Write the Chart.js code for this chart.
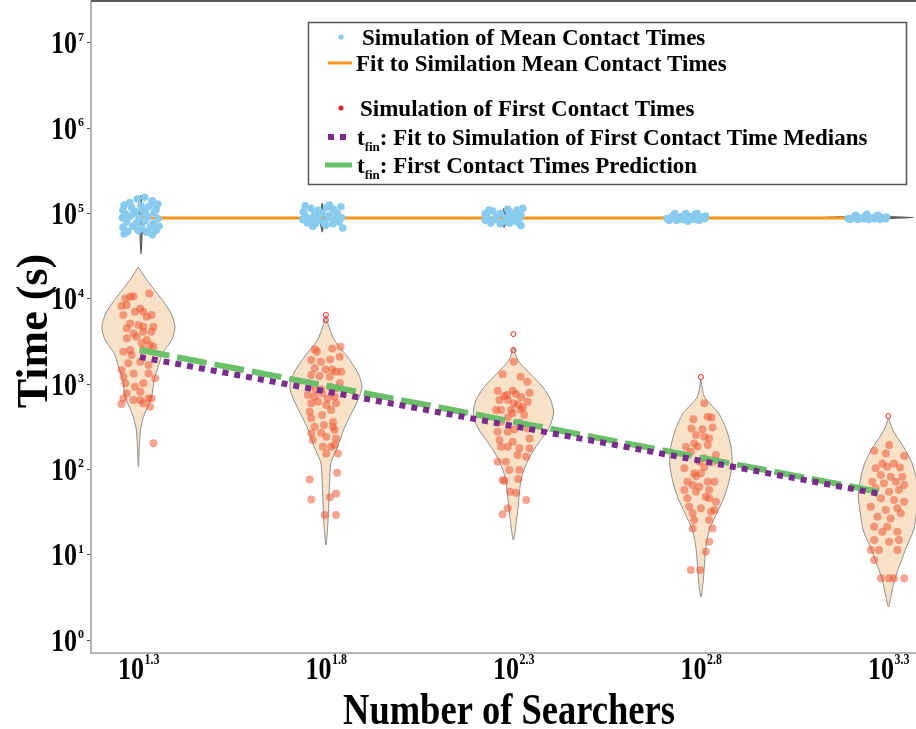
<!DOCTYPE html>
<html>
<head>
<meta charset="utf-8">
<script src="https://cdn.jsdelivr.net/npm/chart.js@4.4.1/dist/chart.umd.min.js"></script>
<style>
html, body { margin: 0; padding: 0; background: #fff; }
canvas { display: block; }
</style>
</head>
<body>
<canvas id="chart" width="916" height="729"></canvas>
<script>
// x values are log10(number of searchers), y values are log10(time in s)
const groupExp = [1.3, 1.8, 2.3, 2.8, 3.3];
const meanGroupX = [1.307, 1.79, 2.275, 2.76, 3.243];
const yDecades = [0, 1, 2, 3, 4, 5, 6, 7];

// simulated mean contact times, [x jitter, log10 t]
const mean13 = [[-.045,5.10],[-.03,5.13],[-.01,5.17],[.01,5.19],[.03,5.15],[.045,5.11],[-.048,5.04],[-.025,5.07],[0,5.09],[.02,5.08],[.04,5.05],[-.04,4.99],[-.015,5.02],[.012,5.00],[.035,5.01],[-.05,4.95],[-.028,4.97],[-.005,4.95],[.018,4.96],[.045,4.94],[-.038,4.90],[-.012,4.89],[.01,4.91],[.032,4.88],[-.048,4.84],[-.022,4.85],[.002,4.83],[.025,4.84],[.048,4.85],[-.035,4.79],[-.008,4.80],[.015,4.78],[.04,4.80],[-.045,4.76],[.03,4.75],[-.02,5.00],[.005,5.04],[.028,5.12]];
const mean18 = [[-.05,5.02],[-.03,5.06],[-.01,5.04],[.012,5.07],[.03,5.05],[.05,5.08],[-.045,4.97],[-.02,4.99],[0,5.00],[.02,4.98],[.04,5.00],[-.052,4.93],[-.03,4.94],[-.008,4.92],[.015,4.95],[.035,4.93],[.052,4.95],[-.04,4.89],[-.018,4.88],[.005,4.89],[.028,4.88],[.045,4.90],[-.025,4.85],[.01,4.86],[.055,4.83],[-.045,5.09],[.02,5.10],[-.01,4.96]];
const mean23 = [[-.05,5.0],[-.03,5.03],[-.01,5.0],[.015,5.02],[.035,5.04],[.05,5.06],[-.045,4.96],[-.02,4.97],[.005,4.95],[.025,4.97],[.045,4.98],[-.05,4.92],[-.025,4.93],[0,4.91],[.02,4.92],[.04,4.93],[-.035,4.89],[-.01,4.88],[.015,4.89],[.035,4.90],[.045,4.86],[-.04,5.04],[.01,5.05],[.03,4.95]];
const mean28 = [[-.05,4.94],[-.035,4.97],[-.02,4.95],[-.005,4.98],[.01,4.96],[.025,4.99],[.04,4.96],[.052,4.97],[-.045,4.92],[-.025,4.92],[-.01,4.93],[.005,4.91],[.02,4.93],[.035,4.92],[.05,4.94],[-.03,5.0],[0,5.0],[.03,5.0],[-.04,4.95],[.015,4.95]];
const mean33 = [[-.05,4.94],[-.035,4.96],[-.02,4.95],[-.005,4.97],[.01,4.95],[.025,4.97],[.04,4.95],[.052,4.96],[-.045,4.93],[-.025,4.93],[-.01,4.94],[.005,4.93],[.02,4.94],[.035,4.93],[.05,4.94],[-.03,4.98],[0,4.99],[.03,4.98]];

// simulated first contact times, [x jitter, log10 t]
const first13 = [[-.035,4.005],[-.022,4.025],[-.013,4.03],[.029,4.064],[-.045,3.916],[-.031,3.927],[.005,3.888],[-.009,3.849],[.013,3.849],[-.04,3.81],[.022,3.79],[.035,3.81],[-.022,3.712],[0,3.693],[.013,3.673],[-.031,3.654],[.04,3.673],[-.013,3.595],[.013,3.615],[.035,3.615],[-.031,3.537],[-.005,3.556],[.022,3.517],[.009,3.478],[.031,3.458],[-.022,3.4],[-.04,3.38],[.013,3.4],[.04,3.439],[-.018,3.341],[-.027,3.244],[.005,3.263],[.027,3.224],[-.045,3.165],[-.04,3.087],[-.013,3.126],[.027,3.126],[-.035,3.009],[.013,3.009],[-.009,2.97],[.045,3.068],[.005,2.911],[-.031,2.892],[-.04,2.833],[-.013,2.814],[.005,2.814],[.027,2.833],[.035,2.833],[-.045,2.767],[.013,2.775],[.031,2.735],[.04,2.306]];
const first18 = [[-.030,3.408],[-.024,3.380],[.017,3.419],[.039,3.439],[-.039,3.283],[-.013,3.263],[.011,3.290],[.037,3.322],[-.030,3.185],[-.001,3.173],[.017,3.173],[.027,3.146],[.041,3.146],[-.039,3.107],[-.017,3.095],[.010,3.087],[.037,3.009],[-.043,2.970],[-.027,2.931],[-.013,2.939],[.011,2.970],[.027,2.950],[-.048,2.872],[-.030,2.853],[-.010,2.892],[.005,2.833],[.023,2.853],[-.039,2.775],[-.021,2.794],[.001,2.755],[.027,2.775],[-.043,2.677],[-.010,2.638],[.014,2.696],[-.039,2.599],[.019,2.560],[-.030,2.501],[-.005,2.521],[.019,2.501],[-.039,2.423],[-.013,2.431],[.023,2.462],[-.035,2.345],[.001,2.384],[.027,2.364],[-.008,2.266],[.014,2.266],[.023,2.286],[.001,2.188],[.032,2.188],[-.043,1.883],[.030,1.962],[-.039,1.649],[.011,1.673],[.027,1.719],[.027,1.465],[-.003,1.465]];
const first23 = [[.001,3.263],[-.029,3.115],[.019,3.087],[.037,3.029],[-.042,2.923],[-.002,2.923],[.043,2.899],[-.017,2.872],[.007,2.884],[-.037,2.814],[-.015,2.814],[.021,2.845],[.001,2.775],[.038,2.794],[-.033,2.696],[-.006,2.696],[.019,2.704],[-.046,2.696],[.029,2.638],[-.015,2.610],[-.033,2.560],[.016,2.548],[.038,2.481],[-.042,2.442],[-.015,2.442],[.003,2.470],[.043,2.364],[-.037,2.345],[-.002,2.325],[-.033,2.266],[-.015,2.266],[.016,2.247],[.043,2.247],[.011,2.169],[.034,2.149],[-.042,2.091],[-.020,2.091],[-.011,1.993],[.016,1.993],[-.029,1.876],[.013,1.887],[-.024,1.864],[-.009,1.739],[.007,1.727],[.034,1.641],[-.015,1.544],[-.029,1.474],[-.024,2.86],[.012,2.76],[-.002,2.66],[.025,2.73]];
const first28 = [[.009,2.775],[-.020,2.587],[.018,2.618],[.028,2.610],[-.025,2.481],[.004,2.470],[.031,2.493],[-.013,2.403],[.009,2.384],[.022,2.364],[-.040,2.266],[-.018,2.305],[.018,2.286],[-.027,2.208],[.040,2.169],[-.004,2.091],[.009,2.130],[-.044,2.013],[.031,2.091],[-.018,1.954],[0,1.954],[-.036,1.856],[.018,1.856],[-.022,1.817],[-.004,1.798],[.036,1.856],[-.044,1.758],[-.013,1.739],[.013,1.680],[-.036,1.661],[.022,1.661],[.040,1.622],[-.031,1.563],[0,1.544],[.036,1.524],[-.022,1.485],[.027,1.504],[-.018,1.407],[.022,1.407],[-.022,1.309],[.031,1.309],[.022,1.153],[.013,1.035],[-.027,0.821],[-.002,0.821],[-.009,2.27],[.009,2.03],[-.013,1.92],[.022,1.76]];
const first33 = [[.002,2.286],[-.038,2.220],[-.007,2.188],[.042,2.157],[-.016,2.071],[.015,2.071],[-.034,2.013],[-.003,2.032],[.031,2.024],[-.020,1.934],[.006,1.915],[.037,1.915],[-.043,1.856],[-.012,1.837],[.020,1.856],[.042,1.817],[-.034,1.778],[.002,1.739],[.028,1.758],[-.020,1.661],[.015,1.641],[.042,1.622],[-.047,1.563],[-.007,1.524],[.024,1.544],[-.029,1.446],[.006,1.426],[.033,1.485],[-.038,1.329],[-.003,1.329],[-.016,1.270],[.024,1.270],[-.038,1.172],[.002,1.153],[.028,1.172],[-.047,1.055],[-.025,1.055],[.024,1.055],[-.038,0.938],[-.020,0.723],[.002,0.723],[.015,0.723],[.042,0.723]];
const firstOutliers = [[1.8,3.810],[1.8,3.751],[2.3,3.587],[2.3,3.40],[2.8,3.083],[3.3,2.626]];

// violin outlines of first contact times, [log10 t, relative density]
const violin13 = [[4.373,0],[4.220,.21],[4.021,.54],[3.833,.81],[3.669,.91],[3.517,.83],[3.365,.61],[3.200,.49],[3.048,.39],[2.849,.33],[2.661,.16],[2.462,.05],[2.028,0]];
const violin18 = [[3.810,0],[3.728,.04],[3.517,.21],[3.318,.54],[3.130,.8],[2.966,.9],[2.814,.8],[2.614,.59],[2.462,.44],[2.263,.29],[2.075,.125],[1.841,.09],[1.372,.05],[1.114,0]];
const violin23 = [[3.435,0],[3.282,.11],[3.130,.4],[2.966,.73],[2.814,.93],[2.661,1],[2.497,.9],[2.345,.68],[2.192,.46],[2.028,.29],[1.876,.19],[1.676,.14],[1.489,.1],[1.172,0]];
const violin28 = [[3.048,0],[2.849,.09],[2.661,.44],[2.462,.64],[2.263,.75],[2.075,.78],[1.876,.71],[1.676,.58],[1.489,.4],[1.290,.21],[1.090,.125],[0.903,.09],[0.703,.06],[0.504,0]];
const violin33 = [[2.603,0],[2.462,.11],[2.263,.38],[2.075,.59],[1.876,.7],[1.676,.75],[1.489,.7],[1.290,.63],[1.090,.45],[0.903,.3],[0.703,.15],[0.504,.06],[0.387,0]];

// violin outlines of mean contact times
const meanViolin13 = [[5.217,0],[5.10,.02],[4.95,.05],[4.80,.03],[4.60,.01],[4.525,0]];
const meanViolin18 = [[5.123,0],[5.0,.04],[4.95,.06],[4.88,.04],[4.783,0]];
const meanViolin23 = [[5.064,0],[4.96,.06],[4.90,.05],[4.841,0]];
const meanViolin28 = [[5.006,0],[4.97,.4],[4.95,.6],[4.93,.4],[4.90,0]];
const meanViolin33 = [[4.971,0],[4.962,.6],[4.953,1.15],[4.944,.6],[4.935,0]];

// fitted lines
const meanFitX = [1.307, 3.243];
const meanFitY = [4.947, 4.947];
const fitX = [1.304, 3.278];
const medianFitY = [3.318, 1.712];
const predictionY = [3.400, 1.735];

const legendLabels = [
    "Simulation of Mean Contact Times",
    "Fit to Similation Mean Contact Times",
    "Simulation of First Contact Times",
    ": Fit to Simulation of First Contact Time Medians",
    ": First Contact Times Prediction"
];

const VIOLIN_HALF = 0.107;
const FONT = '"Liberation Serif", "Times New Roman", serif';

function violinPoints(cx, profile) {
    const right = profile.map(p => ({ x: cx + p[1] * VIOLIN_HALF, y: p[0] }));
    const left = profile.slice(0, -1).reverse().map(p => ({ x: cx - p[1] * VIOLIN_HALF, y: p[0] }));
    return right.concat(left);
}

function jittered(cx, pts) {
    return pts.map(p => ({ x: cx + p[0], y: p[1] }));
}

function pairs(xs, ys) {
    return xs.map((v, i) => ({ x: v, y: ys[i] }));
}

const datasets = [];
[violin13, violin18, violin23, violin28, violin33].forEach((prof, i) => {
    datasets.push({
        type: "line", data: violinPoints(groupExp[i], prof),
        borderColor: "#8f8f8f", borderWidth: 1, backgroundColor: "#f9e2c8",
        fill: "shape", pointRadius: 0, tension: 0.25, order: 9
    });
});
[first13, first18, first23, first28, first33].forEach((pts, i) => {
    datasets.push({
        type: "scatter", data: jittered(groupExp[i], pts),
        pointRadius: 4, pointBorderWidth: 0,
        pointBackgroundColor: "rgba(238, 80, 45, 0.52)", order: 8
    });
});
datasets.push({
    type: "scatter", data: firstOutliers.map(p => ({ x: p[0], y: p[1] })),
    pointRadius: 2.5, pointBorderWidth: 1, pointBorderColor: "#e8232a",
    pointBackgroundColor: "rgba(255,255,255,0)", order: 7
});
[meanViolin13, meanViolin18, meanViolin23, meanViolin28, meanViolin33].forEach((prof, i) => {
    datasets.push({
        type: "line", data: violinPoints(meanGroupX[i], prof),
        borderColor: "#5a5a5a", borderWidth: 1.2, backgroundColor: "#8a8a8a",
        fill: "shape", pointRadius: 0, tension: 0.2, order: 6
    });
});
datasets.push({
    type: "line", data: pairs(meanFitX, meanFitY),
    borderColor: "#f7941d", borderWidth: 3, pointRadius: 0, fill: false, order: 5
});
[mean13, mean18, mean23, mean28, mean33].forEach((pts, i) => {
    datasets.push({
        type: "scatter", data: jittered(meanGroupX[i], pts),
        pointRadius: 3.8, pointBorderWidth: 0,
        pointBackgroundColor: "#89cbee", order: 4
    });
});
datasets.push({
    type: "line", data: pairs(fitX, predictionY),
    borderColor: "#6abf69", borderWidth: 6, borderDash: [30, 8], borderCapStyle: "butt",
    pointRadius: 0, fill: false, order: 3
});
datasets.push({
    type: "line", data: pairs(fitX, medianFitY),
    borderColor: "#7b2a8d", borderWidth: 6, borderDash: [6, 6], borderCapStyle: "butt",
    pointRadius: 0, fill: false, order: 2
});

function drawText(ctx, s, x, y, size, opts) {
    opts = opts || {};
    ctx.save();
    ctx.font = "bold " + size + "px " + FONT;
    ctx.translate(x, y);
    if (opts.rot) ctx.rotate(opts.rot);
    ctx.scale(opts.sx || 1, 1);
    ctx.textAlign = opts.align || "left";
    ctx.textBaseline = "alphabetic";
    ctx.fillStyle = "#000";
    ctx.fillText(s, 0, 0);
    const w = ctx.measureText(s).width * (opts.sx || 1);
    ctx.restore();
    return w;
}

function measure(ctx, s, size, sx) {
    ctx.save();
    ctx.font = "bold " + size + "px " + FONT;
    const w = ctx.measureText(s).width * (sx || 1);
    ctx.restore();
    return w;
}

const overlay = {
    id: "overlay",
    afterDraw(chart) {
        const { ctx, chartArea: a } = chart;
        const xs = chart.scales.x, ys = chart.scales.y;

        ctx.save();
        ctx.strokeStyle = "#222";
        ctx.lineWidth = 1.5;
        ctx.beginPath();
        ctx.moveTo(a.left, 1);
        ctx.lineTo(a.right, 1);
        ctx.stroke();
        ctx.restore();

        // y tick labels 10^k
        yDecades.forEach(k => {
            const py = ys.getPixelForValue(k);
            drawText(ctx, "10", 77, py + 10.5, 31, { align: "right", sx: 0.84 });
            drawText(ctx, String(k), 78, py - 2, 12);
        });

        // x tick labels 10^e
        groupExp.forEach(e => {
            const px = xs.getPixelForValue(e);
            const s = e.toFixed(1);
            const w1 = measure(ctx, "10", 31, 0.84);
            const w2 = measure(ctx, s, 14, 0.85);
            const start = px - (w1 + w2) / 2;
            drawText(ctx, "10", start, 679, 31, { sx: 0.84 });
            drawText(ctx, s, start + w1 + 0.5, 664, 14, { sx: 0.85 });
        });

        // axis titles
        drawText(ctx, "Number of Searchers", 509, 724, 44, { align: "center", sx: 0.83 });
        drawText(ctx, "Time (s)", 47, 331, 44, { align: "center", rot: -Math.PI / 2 });

        // legend
        ctx.save();
        ctx.strokeStyle = "#555";
        ctx.lineWidth = 1.5;
        ctx.strokeRect(308.5, 22.5, 598, 162);

        ctx.fillStyle = "#89cbee";
        ctx.beginPath(); ctx.arc(341, 37, 2.6, 0, Math.PI * 2); ctx.fill();
        ctx.fillStyle = "#e8232a";
        ctx.beginPath(); ctx.arc(341, 108, 2.6, 0, Math.PI * 2); ctx.fill();

        ctx.lineCap = "butt";
        ctx.strokeStyle = "#f7941d"; ctx.lineWidth = 3;
        ctx.beginPath(); ctx.moveTo(328, 63); ctx.lineTo(352, 63); ctx.stroke();
        ctx.strokeStyle = "#7b2a8d"; ctx.lineWidth = 6; ctx.setLineDash([6, 6]);
        ctx.beginPath(); ctx.moveTo(328, 137); ctx.lineTo(352, 137); ctx.stroke();
        ctx.setLineDash([]);
        ctx.strokeStyle = "#6abf69"; ctx.lineWidth = 5;
        ctx.beginPath(); ctx.moveTo(325, 165); ctx.lineTo(352, 165); ctx.stroke();
        ctx.restore();

        const ls = 23;
        drawText(ctx, legendLabels[0], 362, 45, ls);
        drawText(ctx, legendLabels[1], 356, 71, ls);
        drawText(ctx, legendLabels[2], 360, 116, ls);
        let w = drawText(ctx, "t", 357, 145, ls);
        let ws = drawText(ctx, "fin", 357 + w, 151, 13);
        drawText(ctx, legendLabels[3], 357 + w + ws, 145, ls);
        w = drawText(ctx, "t", 357, 173, ls);
        ws = drawText(ctx, "fin", 357 + w, 179, 13);
        drawText(ctx, legendLabels[4], 357 + w + ws, 173, ls);
    }
};

new Chart(document.getElementById("chart"), {
    type: "scatter",
    data: { datasets: datasets },
    options: {
        responsive: false,
        animation: false,
        devicePixelRatio: 1,
        layout: { padding: { top: 2, left: 0, right: 0, bottom: 0 }, autoPadding: false },
        plugins: { legend: { display: false }, tooltip: { enabled: false } },
        scales: {
            x: {
                type: "linear", min: 1.1736, max: 3.3736,
                afterBuildTicks: s => { s.ticks = groupExp.map(v => ({ value: v })); },
                afterFit: s => { s.height = 76; },
                ticks: { display: false },
                grid: { display: true, drawOnChartArea: false, drawTicks: false },
                border: { display: true, color: "#b4b4b4", width: 2 }
            },
            y: {
                type: "linear", min: -0.152, max: 7.48,
                afterBuildTicks: s => { s.ticks = yDecades.map(v => ({ value: v })); },
                afterFit: s => { s.width = 91; },
                ticks: { display: false },
                grid: { display: true, drawOnChartArea: false, drawTicks: true, tickLength: 4, color: "#444" },
                border: { display: true, color: "#b4b4b4", width: 2 }
            }
        }
    },
    plugins: [overlay]
});
</script>
</body>
</html>
